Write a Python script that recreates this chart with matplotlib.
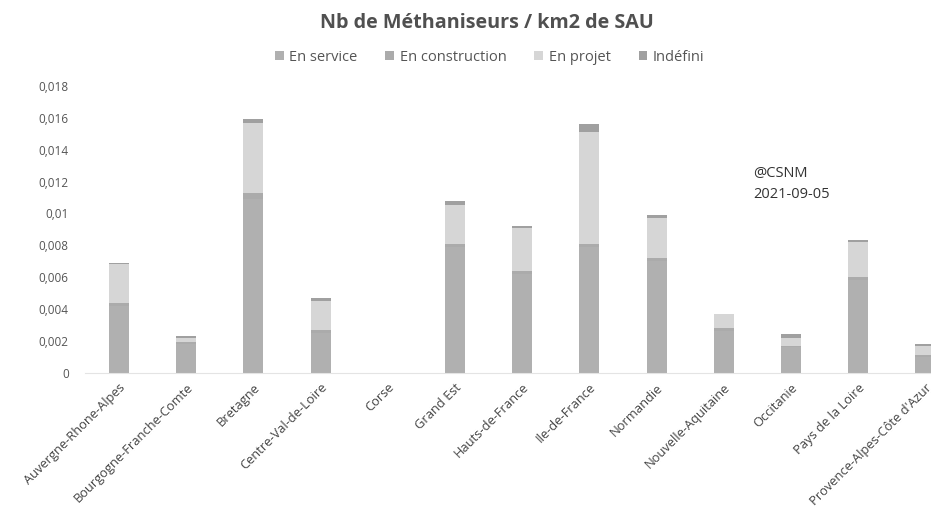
import matplotlib.pyplot as plt
import numpy as np

plt.rcParams['font.family'] = ['Open Sans', 'DejaVu Sans']

# Régions et valeurs (méthaniseurs / km2 de SAU)
regions = ['Auvergne-Rhone-Alpes', 'Bourgogne-Franche-Comte', 'Bretagne',
           'Centre-Val-de-Loire', 'Corse', 'Grand Est', 'Hauts-de-France',
           'Ile-de-France', 'Normandie', 'Nouvelle-Aquitaine', 'Occitanie',
           'Pays de la Loire', "Provence-Alpes-Côte d'Azur"]
en_service = [0.0042, 0.0018, 0.0109, 0.0025, 0.0, 0.0079, 0.0062,
              0.0079, 0.0070, 0.0026, 0.0016, 0.0058, 0.0010]
en_construction = [0.0002, 0.0001, 0.0004, 0.0002, 0.0, 0.0002, 0.0002,
                   0.0002, 0.0002, 0.0002, 0.0001, 0.0002, 0.0001]
en_projet = [0.0024, 0.0003, 0.0044, 0.0018, 0.0, 0.0024, 0.0027,
             0.0070, 0.0025, 0.0009, 0.0005, 0.0022, 0.0006]
indefini = [0.0001, 0.0001, 0.0002, 0.0002, 0.0, 0.0003, 0.0001,
            0.0005, 0.0002, 0.0, 0.0002, 0.0001, 0.0001]

yticks = [0, 0.002, 0.004, 0.006, 0.008, 0.01, 0.012, 0.014, 0.016, 0.018]
ytick_labels = ['0', '0,002', '0,004', '0,006', '0,008', '0,01', '0,012',
                '0,014', '0,016', '0,018']

series = [('En service', en_service, '#b0b0b0'),
          ('En construction', en_construction, '#ababab'),
          ('En projet', en_projet, '#d6d6d6'),
          ('Indéfini', indefini, '#a0a0a0')]

fig = plt.figure(figsize=(9.31, 5.22), dpi=100)
# la zone de tracé dépasse à droite, comme sur l'original
ax = fig.add_axes([85.4 / 931, 1 - 372.7 / 522, 873.6 / 931, (372.7 - 86) / 522])

x = np.arange(len(regions))
bottom = np.zeros(len(regions))
for name, vals, col in series:
    ax.bar(x, vals, 0.3, bottom=bottom, color=col, label=name)
    bottom += np.array(vals)

ax.set_xlim(-0.5, len(regions) - 0.5)
ax.set_ylim(0, 0.018)
ax.set_yticks(yticks)
ax.set_yticklabels(ytick_labels, fontsize=8.5, color='#555555')
ax.set_xticks(x)
ax.set_xticklabels(regions, rotation=45, ha='right', rotation_mode='anchor',
                   fontsize=9.3, color='#444444')
ax.tick_params(axis='x', length=0, pad=6)
ax.tick_params(axis='y', length=0, pad=12)
for s in ['top', 'right', 'left']:
    ax.spines[s].set_visible(False)
ax.spines['bottom'].set_color('#e4e4e4')

fig.text(0.523, 0.955, 'Nb de Méthaniseurs / km2 de SAU', ha='center',
         va='center', fontsize=14.2, fontweight='bold', color='#505050')
fig.legend(loc='center', bbox_to_anchor=(0.526, 0.89), ncol=4, frameon=False,
           fontsize=10.5, handlelength=0.6, handleheight=0.6,
           columnspacing=1.9, handletextpad=0.4, labelcolor='#555555')
fig.text(753 / 931, 1 - 184 / 522, '@CSNM\n2021-09-05', ha='left',
         va='center', fontsize=10.5, color='#333333', linespacing=1.55)

fig.savefig('out.png', dpi=100)
